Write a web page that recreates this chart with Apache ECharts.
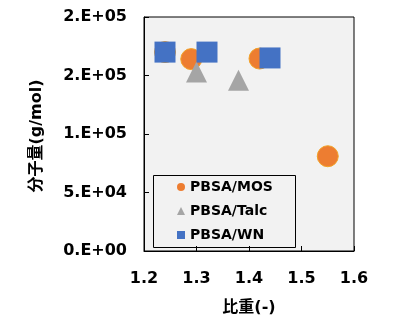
<!DOCTYPE html>
<html>
<head>
<meta charset="utf-8">
<script src="https://cdn.jsdelivr.net/npm/echarts@6/dist/echarts.min.js"></script>
<style>
  html, body { margin: 0; padding: 0; background: #fff; }
  #chart { width: 419px; height: 325px; }
</style>
</head>
<body>
<div id="chart"></div>
<script>
// Specific gravity (x) vs molecular weight (y) for each filler
const mosData  = [[1.24, 170000], [1.29, 164000], [1.42, 164500], [1.55, 81000]];
const talcData = [[1.30, 153000], [1.38, 146000]];
const wnData   = [[1.24, 170000], [1.32, 170000], [1.44, 165000]];

const seriesNames = ['PBSA/MOS', 'PBSA/Talc', 'PBSA/WN'];
const xTicks = [1.2, 1.3, 1.4, 1.5, 1.6];
const yTicks = [0, 50000, 100000, 150000, 200000];
const yTickLabels = ['0.E+00', '5.E+04', '1.E+05', '2.E+05', '2.E+05'];

const FONT = 'DejaVu Sans, "Noto Sans CJK JP", sans-serif';
const chart = echarts.init(document.getElementById('chart'), null, { renderer: 'canvas' });

chart.setOption({
  animation: false,
  backgroundColor: '#ffffff',
  grid: {
    left: 144, top: 17, width: 210, height: 234,
    show: true, backgroundColor: '#f2f2f2', borderColor: '#000', borderWidth: 1
  },
  xAxis: {
    type: 'value',
    min: xTicks[0], max: xTicks[xTicks.length - 1], interval: 0.1,
    axisLine: { show: true, lineStyle: { color: '#000', width: 1 } },
    axisTick: { show: true, inside: true, length: 5, lineStyle: { color: '#000' } },
    splitLine: { show: false },
    axisLabel: {
      margin: 20, color: '#000', fontFamily: FONT, fontWeight: 'bold', fontSize: 16,
      formatter: v => v.toFixed(1)
    }
  },
  yAxis: {
    type: 'value',
    min: yTicks[0], max: yTicks[yTicks.length - 1], interval: 50000,
    axisLine: { show: true, lineStyle: { color: '#000', width: 1 } },
    axisTick: { show: true, inside: true, length: 5, lineStyle: { color: '#000' } },
    splitLine: { show: false },
    axisLabel: {
      margin: 17, color: '#000', fontFamily: FONT, fontWeight: 'bold', fontSize: 16,
      formatter: v => yTickLabels[yTicks.indexOf(v)]
    }
  },
  legend: {
    orient: 'vertical',
    left: 177, top: 180,
    itemWidth: 8, itemHeight: 8, itemGap: 10,
    padding: 0,
    data: seriesNames,
    itemStyle: { borderWidth: 0 },
    textStyle: { color: '#000', fontFamily: FONT, fontWeight: 'bold', fontSize: 14, lineHeight: 14 }
  },
  graphic: [
    {
      type: 'rect', z: 1,
      shape: { x: 153.5, y: 175.5, width: 142, height: 72 },
      style: { fill: 'rgba(0,0,0,0)', stroke: '#000', lineWidth: 1 }
    },
    {
      type: 'text', x: 37, y: 136, rotation: Math.PI / 2,
      style: {
        text: '分子量(g/mol)', fill: '#000', fontFamily: FONT, fontWeight: 'bold', fontSize: 16,
        align: 'center', verticalAlign: 'middle'
      }
    },
    {
      type: 'text', x: 249, y: 308,
      style: {
        text: '比重(-)', fill: '#000', fontFamily: FONT, fontWeight: 'bold', fontSize: 16,
        align: 'center', verticalAlign: 'middle'
      }
    }
  ],
  series: [
    {
      name: seriesNames[0], type: 'scatter', symbol: 'circle', symbolSize: 21,
      itemStyle: { color: '#ED7D31', borderColor: '#F2A227', borderWidth: 1, opacity: 1 },
      data: mosData
    },
    {
      name: seriesNames[1], type: 'scatter', symbol: 'triangle', symbolSize: 21,
      itemStyle: { color: '#A5A5A5', opacity: 1 },
      data: talcData
    },
    {
      name: seriesNames[2], type: 'scatter', symbol: 'rect', symbolSize: 21,
      itemStyle: { color: '#4472C4', opacity: 1 },
      data: wnData
    }
  ]
});
</script>
</body>
</html>
